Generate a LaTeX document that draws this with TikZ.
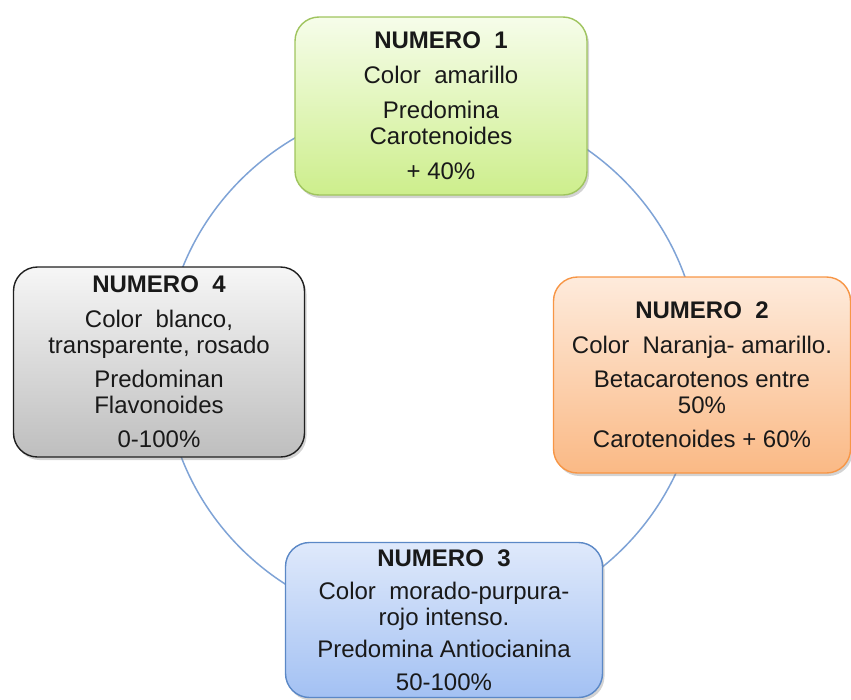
\documentclass[tikz,border=0pt]{standalone}
\usepackage{fontspec}
\setmainfont{Liberation Sans}
\usepackage{xcolor}
\usetikzlibrary{shadows}

\definecolor{ringblue}{HTML}{7FA3D6}
\definecolor{greenline}{HTML}{9FC45E}
\definecolor{greentop}{HTML}{F6FDEA}
\definecolor{greenbot}{HTML}{CDEE8C}
\definecolor{orangeline}{HTML}{F79646}
\definecolor{orangetop}{HTML}{FEEBDC}
\definecolor{orangebot}{HTML}{FAB985}
\definecolor{blueline}{HTML}{5B88C6}
\definecolor{bluetop}{HTML}{DFE9FB}
\definecolor{bluebot}{HTML}{A3C1F3}
\definecolor{grayline}{HTML}{202020}
\definecolor{graytop}{HTML}{F6F6F6}
\definecolor{graybot}{HTML}{BEBEBE}

\begin{document}
\begin{tikzpicture}[x=1pt,y=-1pt,
    caja/.style={rounded corners=24pt, line width=1.4pt, align=center,
        font=\fontsize{24}{26}\selectfont, text=black!90, inner sep=0pt,
        drop shadow={shadow xshift=2pt, shadow yshift=-3pt, opacity=0.35}},
    ring/.style={ringblue, line width=1.5pt}]
    \useasboundingbox (0,0) rectangle (851,699);
    \coordinate (centro) at (432,364);
    \draw[ring] (centro) ellipse [x radius=268pt, y radius=263pt];
    \node[caja, draw=greenline, top color=greentop, bottom color=greenbot,
        minimum width=292pt, minimum height=178pt] (uno) at (441,106)
        {\textbf{NUMERO~~1}\\[9pt] Color~~amarillo\\[9pt] Predomina\\Carotenoides\\[9pt] + 40\%};
    \node[caja, draw=orangeline, top color=orangetop, bottom color=orangebot,
        minimum width=297pt, minimum height=196pt] (dos) at (702,375)
        {\textbf{NUMERO~~2}\\[9pt] Color~~Naranja- amarillo.\\[8pt] Betacarotenos entre\\50\%\\[8pt] Carotenoides + 60\%};
    \node[caja, draw=blueline, top color=bluetop, bottom color=bluebot,
        minimum width=317pt, minimum height=155pt] (tres) at (444,620)
        {\textbf{NUMERO~~3}\\[7pt] Color~~morado-purpura-\\rojo intenso.\\[6pt] Predomina Antiocianina\\[7pt] 50-100\%};
    \node[caja, draw=grayline, top color=graytop, bottom color=graybot,
        minimum width=291pt, minimum height=190pt] (cuatro) at (159,362)
        {\textbf{NUMERO~~4}\\[9pt] Color~~blanco,\\transparente, rosado\\[8pt] Predominan\\Flavonoides\\[8pt] 0-100\%};
\end{tikzpicture}
\end{document}
